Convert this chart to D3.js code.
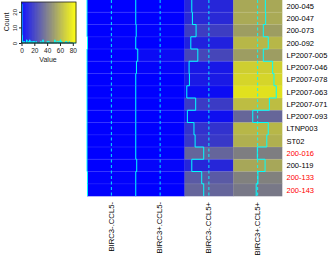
<!DOCTYPE html>
<html>
<head>
<meta charset="utf-8">
<script src="https://cdn.jsdelivr.net/npm/d3@7"></script>
<style>
body { margin: 0; background: #fff; }
svg { display: block; font-family: "Liberation Sans", Arial, sans-serif; }
</style>
</head>
<body>
<svg id="chart" width="332" height="255"></svg>
<script>
// rows top to bottom
var samples = ["200-045", "200-047", "200-073", "200-092", "LP2007-005", "LP2007-046", "LP2007-078",
  "LP2007-063", "LP2007-071", "LP2007-093", "LTNP003", "ST02", "200-016", "200-119", "200-133", "200-143"];
var redSamples = ["200-016", "200-133", "200-143"];
var groups = ["BIRC3-.CCL5-", "BIRC3+.CCL5-", "BIRC3-.CCL5+", "BIRC3+.CCL5+"];

// one array per column, same order as samples
var birc3mCcl5m = [0, 0, 0, 0.9, 0, 0, 0, 0, 0, 0, 0, 0, 0, 0, 0.8, 0.8];
var birc3pCcl5m = [0, 0, 0.8, 0, 3.5, 1.2, 0, 0, 0, 0, 0, 0, 0, 1.7, 0, 0];
var birc3mCcl5p = [12.7, 13.8, 20.2, 11, 23.2, 8, 8.6, 4, 19.5, 5, 16.5, 18.5, 33.5, 12.7, 30, 33.5];
var birc3pCcl5p = [56, 56.5, 52.4, 61, 52.4, 68.7, 71, 75, 63, 34, 61, 58.5, 42, 55.5, 43, 40];
var columns = [birc3mCcl5m, birc3pCcl5m, birc3mCcl5p, birc3pCcl5p];

var valueMax = 85;
var valueTicks = [0, 20, 40, 60, 80];
var countTicks = [0, 10, 20];
var nBreaks = 128;

var svg = d3.select("#chart");

var x = d3.scaleBand().domain(groups).range([87, 282]);
var y = d3.scaleBand().domain(samples).range([0, 196]);
var color = d3.scaleLinear().domain([0, valueMax]).range(["#0000ff", "#ffff00"]).interpolate(d3.interpolateRgb);
var tr = d3.scaleLinear().domain([0, valueMax]).range([0, x.bandwidth()]);

// cells
var hm = svg.append("g");
groups.forEach(function(g, gi) {
  hm.selectAll(".c" + gi).data(columns[gi]).enter().append("rect")
    .attr("x", x(g)).attr("y", function(d, i) { return y(samples[i]); })
    .attr("width", x.bandwidth() + 0.3).attr("height", y.bandwidth() + 0.3)
    .attr("fill", function(d) { return color(d); });
});
// faint row edges
hm.selectAll(".sep").data(samples.slice(1)).enter().append("line")
  .attr("x1", 87).attr("x2", 282)
  .attr("y1", function(s) { return y(s); }).attr("y2", function(s) { return y(s); })
  .attr("stroke", "#fff").attr("stroke-opacity", 0.12);

// dashed centre lines + traces
var line = d3.line();
groups.forEach(function(g, gi) {
  var cx = x(g) + tr(valueMax / 2);
  hm.append("line").attr("x1", cx).attr("x2", cx).attr("y1", 0).attr("y2", 196)
    .attr("stroke", "#00ffff").attr("stroke-width", 0.9).attr("stroke-dasharray", "3,2.5");
  var pts = [];
  columns[gi].forEach(function(v, i) {
    var px = x(g) + tr(v);
    pts.push([px, y(samples[i])]);
    pts.push([px, y(samples[i]) + y.bandwidth()]);
  });
  hm.append("path").attr("d", line(pts)).attr("fill", "none")
    .attr("stroke", "#00ffff").attr("stroke-width", 1);
});

// row labels
svg.append("g").selectAll("text").data(samples).enter().append("text")
  .attr("x", 286.5).attr("y", function(s) { return y(s) + y.bandwidth() / 2; })
  .attr("dy", "0.35em").attr("font-size", 7.5)
  .attr("fill", function(s) { return redSamples.indexOf(s) >= 0 ? "#ff0000" : "#000"; })
  .text(function(s) { return s; });

// column labels
svg.append("g").selectAll("text").data(groups).enter().append("text")
  .attr("transform", function(g) { return "translate(" + (x(g) + x.bandwidth() / 2 + 2.2) + ",202) rotate(-90)"; })
  .attr("text-anchor", "end").attr("font-size", 7.7).attr("fill", "#000")
  .text(function(g) { return g; });

// colour key
var keyTop = 2, keyBot = 43;
var kx = d3.scaleLinear().domain([0, valueMax]).range([21.5, 76]);
var key = svg.append("g");
var step = valueMax / nBreaks;
key.selectAll(".k").data(d3.range(nBreaks)).enter().append("rect")
  .attr("x", function(i) { return kx(i * step); }).attr("y", keyTop)
  .attr("width", kx(step) - kx(0) + 0.3).attr("height", keyBot - keyTop)
  .attr("fill", function(i) { return color((i + 0.5) * step); });

var all = [].concat.apply([], columns);
var bins = d3.bin().domain([0, valueMax]).thresholds(d3.range(1, nBreaks).map(function(i) { return i * step; }))(all);
var maxCount = d3.max(bins, function(b) { return b.length; });
var ky = d3.scaleLinear().domain([0, maxCount]).range([keyBot, keyBot - 0.95 * (keyBot - keyTop)]);
var hpts = [];
bins.forEach(function(b) {
  hpts.push([kx(b.x0), ky(b.length)]);
  hpts.push([kx(b.x1), ky(b.length)]);
});
key.append("path").attr("d", line(hpts)).attr("fill", "none").attr("stroke", "#00ffff").attr("stroke-width", 1);
key.append("rect").attr("x", 21.5).attr("y", keyTop).attr("width", 54.5).attr("height", keyBot - keyTop)
  .attr("fill", "none").attr("stroke", "#222").attr("stroke-width", 0.8);

var xa = key.append("g").attr("transform", "translate(0," + keyBot + ")")
  .call(d3.axisBottom(kx).tickValues(valueTicks).tickSize(3).tickPadding(2));
xa.select(".domain").attr("stroke", "#222").attr("stroke-width", 0.8).attr("d", "M21.5,0H72.8");
xa.selectAll("text").attr("font-size", 6.5).attr("fill", "#222").attr("font-family", "Liberation Sans, Arial, sans-serif");
xa.selectAll("line").attr("stroke", "#222");

var ya = key.append("g").attr("transform", "translate(21.5,0)")
  .call(d3.axisLeft(ky).tickValues(countTicks).tickSize(2.5).tickPadding(1.5));
ya.select(".domain").remove();
ya.selectAll("line").attr("stroke", "#222");
ya.selectAll("text").attr("font-size", 6).attr("fill", "#222").attr("font-family", "Liberation Sans, Arial, sans-serif")
  .attr("text-anchor", "middle").attr("x", 0).attr("y", 0).attr("dy", 0)
  .attr("transform", "translate(-4.5,0) rotate(-90)");

key.append("text").attr("x", 48).attr("y", 62).attr("text-anchor", "middle")
  .attr("font-size", 7).attr("fill", "#222").text("Value");
key.append("text").attr("transform", "translate(9,22) rotate(-90)").attr("text-anchor", "middle")
  .attr("font-size", 7).attr("fill", "#222").text("Count");
</script>
</body>
</html>
